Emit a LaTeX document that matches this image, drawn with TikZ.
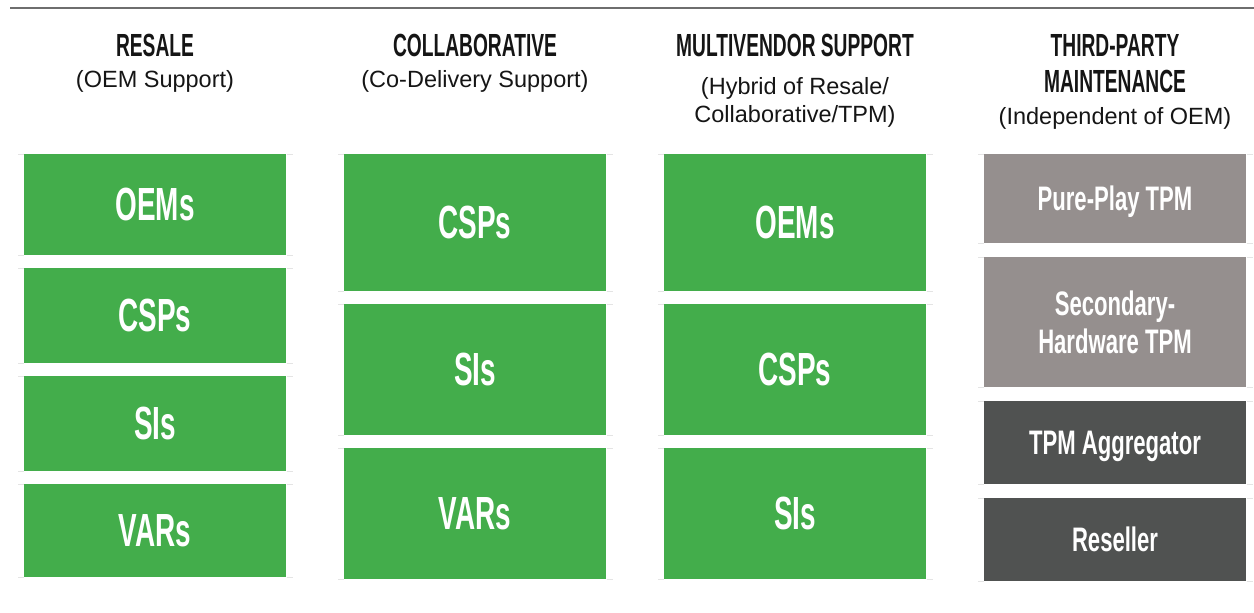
\documentclass[tikz,border=0pt]{standalone}
\usepackage{fontspec}
\setmainfont{Liberation Sans}
\newfontfamily\narrowfont[FakeStretch=0.6]{Liberation Sans}
\newfontfamily\tpmfont[FakeStretch=0.65]{Liberation Sans}

\definecolor{tiergreen}{HTML}{43AD4B}
\definecolor{tiergray}{HTML}{958F8E}
\definecolor{tierdark}{HTML}{505251}
\definecolor{rulegray}{HTML}{6E6E6E}
\definecolor{edgegray}{HTML}{E4E4E4}
\definecolor{headblack}{HTML}{151515}

\begin{document}
\begin{tikzpicture}[x=1pt,y=-1pt,
		title/.style={anchor=north,inner sep=0pt,align=center,text=headblack,font=\narrowfont\bfseries\fontsize{32}{36}\selectfont},
		subtitle/.style={anchor=north,inner sep=0pt,align=center,text=headblack,font=\fontsize{23.5}{28}\selectfont},
		tier/.style={minimum width=262pt,inner sep=0pt,outer sep=0pt,text depth=0pt,text=white,align=center,font=\narrowfont\bfseries\fontsize{46.5}{50}\selectfont},
		green tier/.style={tier,fill=tiergreen},
		tpm tier/.style={tier,font=\tpmfont\bfseries\fontsize{34}{38}\selectfont},
		edge rule/.style={edgegray,line width=1pt}]
	\useasboundingbox (0,0) rectangle (1254,613);
	
	\draw[rulegray,line width=1.5pt] (10,8) -- (1254,8);
	
	% column headings
	\node[title] (hResale) at (155,34) {RESALE};
	\node[subtitle] (sResale) at (155,70) {(OEM Support)};
	\node[title] (hCollab) at (475,34) {COLLABORATIVE};
	\node[subtitle] (sCollab) at (475,70) {(Co-Delivery Support)};
	\node[title] (hMulti) at (795,34) {MULTIVENDOR SUPPORT};
	\node[subtitle] (sMulti) at (795,77) {(Hybrid of Resale/\\Collaborative/TPM)};
	\node[title] (hTPM) at (1115,34) {THIRD-PARTY\\MAINTENANCE};
	\node[subtitle] (sTPM) at (1115,107.5) {(Independent of OEM)};
	
	% resale
	\node[green tier,minimum height=101pt] (resOEM) at (155,204.5) {OEMs};
	\node[green tier,minimum height=95pt] (resCSP) at (155,315.5) {CSPs};
	\node[green tier,minimum height=95pt] (resSI) at (155,423.5) {SIs};
	\node[green tier,minimum height=93pt] (resVAR) at (155,530.5) {VARs};
	
	% collaborative
	\node[green tier,minimum height=137pt] (colCSP) at (475,222.5) {CSPs};
	\node[green tier,minimum height=131pt] (colSI) at (475,369.5) {SIs};
	\node[green tier,minimum height=131pt] (colVAR) at (475,513.5) {VARs};
	
	% multivendor
	\node[green tier,minimum height=137pt] (mvOEM) at (795,222.5) {OEMs};
	\node[green tier,minimum height=131pt] (mvCSP) at (795,369.5) {CSPs};
	\node[green tier,minimum height=131pt] (mvSI) at (795,513.5) {SIs};
	
	% third-party maintenance
	\node[tpm tier,fill=tiergray,minimum height=89pt] (tpmPure) at (1115,198.5) {Pure-Play TPM};
	\node[tpm tier,fill=tiergray,minimum height=130pt] (tpmSecond) at (1115,322) {Secondary-\\Hardware TPM};
	\node[tpm tier,fill=tierdark,minimum height=83pt] (tpmAggr) at (1115,442.5) {TPM Aggregator};
	\node[tpm tier,fill=tierdark,minimum height=83pt] (tpmResell) at (1115,539.5) {Reseller};
	
	\foreach \n in {resOEM,resCSP,resSI,resVAR,colCSP,colSI,colVAR,mvOEM,mvCSP,mvSI,tpmPure,tpmSecond,tpmAggr,tpmResell}{
		\draw[edge rule] ([xshift=-6pt]\n.north west) -- ([xshift=-0.5pt]\n.north west);
		\draw[edge rule] ([xshift=0.5pt]\n.north east) -- ([xshift=7pt]\n.north east);
		\draw[edge rule] ([xshift=-6pt]\n.south west) -- ([xshift=-0.5pt]\n.south west);
		\draw[edge rule] ([xshift=0.5pt]\n.south east) -- ([xshift=7pt]\n.south east);
	}
\end{tikzpicture}
\end{document}
